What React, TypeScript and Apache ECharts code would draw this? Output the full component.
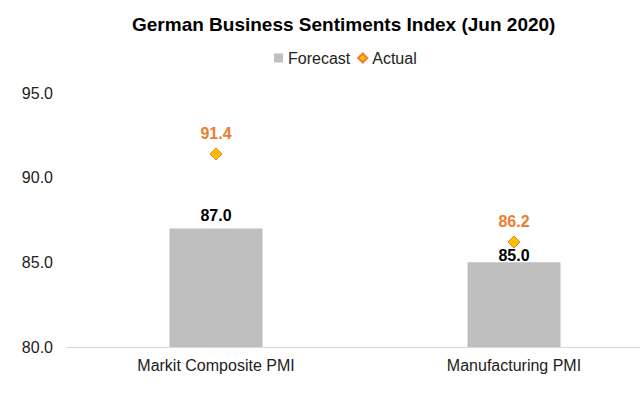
import React, { useEffect, useRef } from "react";
import * as echarts from "echarts";

const categories = ["Markit Composite PMI", "Manufacturing PMI"];
const forecastValues = [87.0, 85.0];
const actualValues = [91.4, 86.2];
const yTicks = { min: 80, max: 95, interval: 5 };

export default function App() {
  const ref = useRef<HTMLDivElement>(null);
  useEffect(() => {
    if (!ref.current) return;
    const chart = echarts.init(ref.current, null, { renderer: "svg" });
    const font = "Arial";
    const forecastData = forecastValues.map((v, i) =>
      i === 1 ? { value: v, label: { distance: -1 } } : { value: v }
    );
    chart.setOption({
      animation: false,
      textStyle: { fontFamily: font },
      title: {
        text: "German Business Sentiments Index (Jun 2020)",
        left: 127,
        top: 10,
        textStyle: { fontFamily: font, fontSize: 19, fontWeight: "bold", color: "#000" },
      },
      legend: {
        top: 45,
        left: 269,
        itemGap: 7,
        itemWidth: 9,
        itemHeight: 9,
        textStyle: { fontFamily: font, fontSize: 16, color: "#222" },
        data: [
          { name: "Forecast", icon: "rect" },
          { name: "Actual", icon: "diamond" },
        ],
      },
      grid: {
        left: 67,
        right: -23,
        top: 93,
        bottom: 51,
        containLabel: false,
        outerBoundsMode: "none",
      },
      xAxis: {
        type: "category",
        data: categories,
        axisLine: { show: true, lineStyle: { color: "#d9d9d9" } },
        axisTick: { show: false },
        axisLabel: { fontFamily: font, fontSize: 16, color: "#222", margin: 10 },
      },
      yAxis: {
        type: "value",
        min: yTicks.min,
        max: yTicks.max,
        interval: yTicks.interval,
        axisLine: { show: false },
        axisTick: { show: false },
        splitLine: { show: false },
        axisLabel: {
          fontFamily: font,
          fontSize: 16,
          color: "#222",
          margin: 14,
          formatter: (v: number) => v.toFixed(1),
        },
      },
      series: [
        {
          name: "Forecast",
          type: "bar",
          data: forecastData,
          barWidth: 93,
          itemStyle: { color: "#bfbfbf" },
          label: {
            show: true,
            position: "top",
            distance: 5,
            fontFamily: font,
            fontSize: 16,
            fontWeight: "bold",
            color: "#000",
            formatter: (p: any) => Number(p.value).toFixed(1),
          },
        },
        {
          name: "Actual",
          type: "scatter",
          data: actualValues,
          symbol: "diamond",
          symbolSize: 12,
          itemStyle: { color: "#ffc000", borderColor: "#ed7d31", borderWidth: 1, opacity: 1 },
          label: {
            show: true,
            position: "top",
            distance: 6,
            fontFamily: font,
            fontSize: 16,
            fontWeight: "bold",
            color: "#ed7d31",
            opacity: 1,
            formatter: (p: any) => Number(p.value).toFixed(1),
          },
          z: 5,
        },
      ],
    });
    return () => chart.dispose();
  }, []);
  return (
    <div
      ref={ref}
      style={{ position: "fixed", left: 0, top: 0, width: 640, height: 398, background: "#fff" }}
    />
  );
}
